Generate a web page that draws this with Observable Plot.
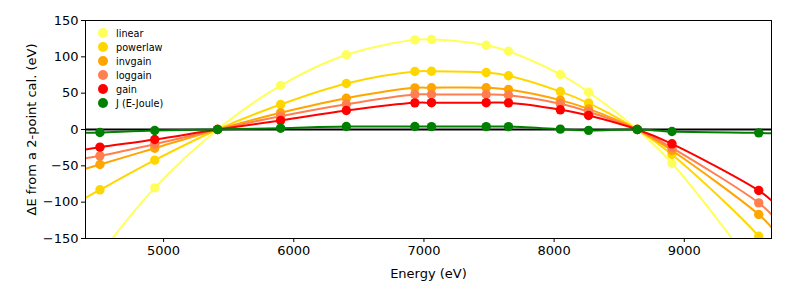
<!DOCTYPE html>
<html>
<head>
<meta charset="utf-8">
<script src="https://cdn.jsdelivr.net/npm/d3@7"></script>
<script src="https://cdn.jsdelivr.net/npm/@observablehq/plot@0.6"></script>
<style>
  body { margin: 0; background: white; }
  #wrap { position: relative; width: 789px; height: 296px; font-family: "DejaVu Sans", sans-serif; }
  #legend { position: absolute; left: 98px; top: 26px; font-size: 9.7px; color: #000; }
  .item { display: flex; align-items: center; height: 14px; }
  .sw { width: 10px; height: 10px; border-radius: 50%; margin-right: 8px; }
</style>
</head>
<body>
<div id="wrap"><div id="legend"></div></div>
<script>
// Emission line energies (eV) of the calibration points
const energies = [4510.9, 4931.8, 5414.7, 5898.8, 6403.8, 6930.3, 7058.0, 7478.3, 7649.4, 8047.8, 8264.7, 8638.9, 8905.3, 9572.0];

// ΔE from a 2-point calibration (eV) per model
const linear   = [-172, -80.3, 0, 60.5, 102.8, 123.4, 123.8, 116.0, 107.7, 75.7, 51.3, 0, -46.4, -200];
const powerlaw = [-83.0, -42.2, 0, 34.4, 63.3, 79.8, 80.2, 78.4, 73.9, 52.2, 36.4, 0, -34.4, -147];
const invgain  = [-48.2, -25.7, 0, 23.0, 43.0, 57.3, 57.5, 57.5, 55.0, 40.4, 28.3, 0, -28.9, -117];
const loggain  = [-36.2, -20.2, 0, 18.3, 34.8, 48.2, 48.2, 48.2, 47.2, 35.4, 24.5, 0, -25.2, -101];
const gain     = [-24.3, -13.8, 0, 12.4, 26.1, 36.7, 36.9, 36.9, 36.7, 27.1, 19.3, 0, -19.7, -84];
const joule    = [-4.1, -1.4, 0, 1.8, 4.1, 4.1, 4.0, 4.0, 4.0, 0.5, -1.2, 0, -2.8, -4.6];

// Fitted-curve values at the plot edges
const edgeEnergies = [4400, 9670];
const edgeLinear   = [-200, -228];
const edgePowerlaw = [-94, -172];
const edgeInvgain  = [-54, -134.5];
const edgeLoggain  = [-39.5, -117];
const edgeGain     = [-27.5, -97.7];
const edgeJoule    = [-4.5, -5.2];

const seriesNames  = ["linear", "powerlaw", "invgain", "loggain", "gain", "J (E-Joule)"];
const seriesColors = ["#ffff5c", "#ffd700", "#ffa500", "#ff7f50", "#ff0000", "#008000"];
const seriesValues = [linear, powerlaw, invgain, loggain, gain, joule];
const seriesEdges  = [edgeLinear, edgePowerlaw, edgeInvgain, edgeLoggain, edgeGain, edgeJoule];

const xTicks = [5000, 6000, 7000, 8000, 9000];
const yTicks = [-150, -100, -50, 0, 50, 100, 150];

const pointsOf = (k) => energies.map((e, i) => ({energy: e, dE: seriesValues[k][i]}));
const curveOf = (k) => [
  {energy: edgeEnergies[0], dE: seriesEdges[k][0]},
  ...pointsOf(k),
  {energy: edgeEnergies[1], dE: seriesEdges[k][1]}
];

const marks = [];
for (let k = 0; k < 5; k++) {
  marks.push(Plot.line(curveOf(k), {x: "energy", y: "dE", stroke: seriesColors[k], strokeWidth: 2, curve: "catmull-rom", clip: true}));
  marks.push(Plot.dot(pointsOf(k), {x: "energy", y: "dE", fill: seriesColors[k], r: 4.7, clip: true}));
}
marks.push(Plot.ruleY([0], {stroke: "black", strokeWidth: 2.2}));
marks.push(Plot.line(curveOf(5), {x: "energy", y: "dE", stroke: seriesColors[5], strokeWidth: 2, curve: "catmull-rom", clip: true}));
marks.push(Plot.dot(pointsOf(5), {x: "energy", y: "dE", fill: seriesColors[5], r: 4.7, clip: true}));
marks.push(Plot.frame({stroke: "black", strokeWidth: 1}));
marks.push(Plot.axisX({ticks: xTicks, tickFormat: d3.format("d"), tickSize: 4, tickPadding: 3, fontSize: 13,
  label: "Energy (eV)", labelAnchor: "center", labelArrow: "none", labelOffset: 39}));
marks.push(Plot.axisY({ticks: yTicks, tickFormat: d3.format("d"), tickSize: 4, tickPadding: 3, fontSize: 13,
  label: "ΔE from a 2-point cal. (eV)", labelAnchor: "center", labelArrow: "none", labelOffset: 59}));

const chart = Plot.plot({
  width: 789,
  height: 296,
  marginLeft: 85,
  marginRight: 18,
  marginTop: 20,
  marginBottom: 58,
  style: {fontFamily: "DejaVu Sans", fontSize: "13px", background: "white", color: "black"},
  x: {domain: [4400, 9670]},
  y: {domain: [-150, 150]},
  marks
});
const wrap = document.getElementById("wrap");
wrap.insertBefore(chart, wrap.firstChild);

const legend = document.getElementById("legend");
seriesNames.forEach((name, k) => {
  const it = document.createElement("div");
  it.className = "item";
  const sw = document.createElement("span");
  sw.className = "sw";
  sw.style.background = seriesColors[k];
  const tx = document.createElement("span");
  tx.textContent = name;
  it.appendChild(sw);
  it.appendChild(tx);
  legend.appendChild(it);
});
</script>
</body>
</html>
